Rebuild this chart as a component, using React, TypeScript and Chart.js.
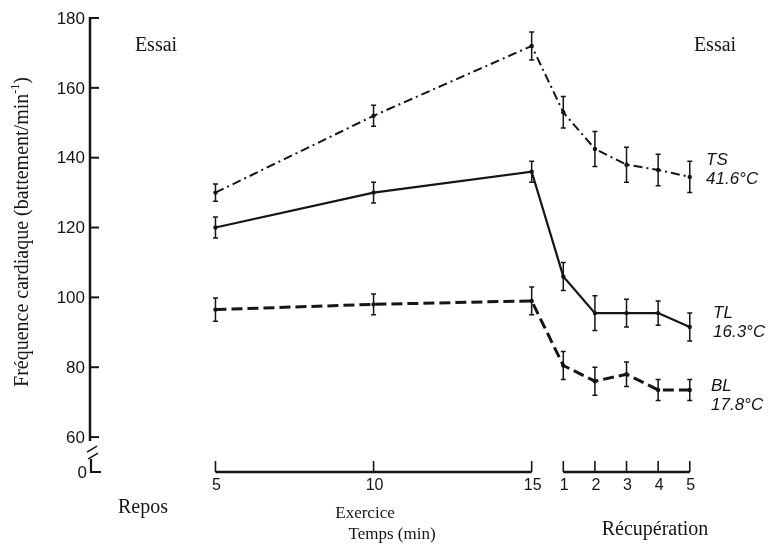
import { useEffect, useRef } from "react";
import { Chart, registerables } from "chart.js";

Chart.register(...registerables);

// Time points: exercise minutes, then recovery minutes (counted after the 15th minute)
const exerciseMinutes = [5, 10, 15];
const recoveryMinutes = [1, 2, 3, 4, 5];
const recoveryStart = 15;

// Heart rate (beats/min), mean and error for each condition
const tsRate = [130, 152, 172, 153, 142.5, 138, 136.5, 134.5];
const tsError = [2.5, 3, 4, 4.5, 5, 5, 4.5, 4.5];
const tlRate = [120, 130, 136, 106, 95.5, 95.5, 95.5, 91.5];
const tlError = [3, 3, 3, 4, 5, 4, 3.5, 4];
const blRate = [96.5, 98, 99, 80.5, 76, 78, 73.5, 73.5];
const blError = [3.3, 3, 4, 4, 4, 3.5, 3, 3];

// Series labels written at the end of each curve
const tsLabel = ["TS", "41.6°C"];
const tlLabel = ["TL", "16.3°C"];
const blLabel = ["BL", "17.8°C"];

// Vertical axis: ticks above the break, and the value the broken baseline stands for
const yTicks = [60, 80, 100, 120, 140, 160, 180];
const yBreakValue = 50;
const yBreakLabel = "0";
const yMin = 50;
const yMax = 180;
const xMin = 1;
const xMax = 22;

const INK = "#151515";
const SERIF = "'Liberation Serif', 'Times New Roman', serif";
const SANS = "'Liberation Sans', Arial, sans-serif";

const xValues = [...exerciseMinutes, ...recoveryMinutes.map((m) => recoveryStart + m)];
const toPoints = (vals: number[]) => vals.map((y, i) => ({ x: xValues[i], y }));
const errorSets = [tsError, tlError, blError];

const figurePlugin = {
  id: "figure",
  beforeDatasetsDraw(chart: any) {
    const { ctx, scales } = chart;
    const x = scales.x;
    const y = scales.y;
    const ax = chart.chartArea.left + 1;
    ctx.save();
    ctx.strokeStyle = INK;
    ctx.fillStyle = INK;
    ctx.lineCap = "butt";

    // vertical axis with a break above the baseline
    const yTop = y.getPixelForValue(yMax) - 1;
    const y60 = y.getPixelForValue(yTicks[0]);
    const yBase = y.getPixelForValue(yBreakValue);
    ctx.lineWidth = 2.5;
    ctx.beginPath();
    ctx.moveTo(ax, yTop);
    ctx.lineTo(ax, y60 + 4);
    ctx.stroke();
    ctx.lineWidth = 1.6;
    ctx.beginPath();
    ctx.moveTo(ax - 3, y60 + 15);
    ctx.lineTo(ax + 7, y60 + 9);
    ctx.moveTo(ax - 2, y60 + 22);
    ctx.lineTo(ax + 8, y60 + 16);
    ctx.stroke();
    ctx.lineWidth = 2.2;
    ctx.beginPath();
    ctx.moveTo(ax + 1, y60 + 22);
    ctx.lineTo(ax + 1, yBase);
    ctx.lineTo(ax + 11, yBase);
    ctx.stroke();

    ctx.lineWidth = 2;
    ctx.font = `17px ${SANS}`;
    ctx.textAlign = "right";
    ctx.textBaseline = "middle";
    for (const v of yTicks) {
      const py = y.getPixelForValue(v);
      ctx.beginPath();
      ctx.moveTo(ax, py);
      ctx.lineTo(ax + 9, py);
      ctx.stroke();
      ctx.fillText(String(v), ax - 5, py + 1);
    }
    ctx.fillText(yBreakLabel, ax - 3, yBase + 1);

    // time axis: exercise segment and recovery segment
    const segments = [
      { values: exerciseMinutes, labels: exerciseMinutes.map(String) },
      {
        values: recoveryMinutes.map((m) => recoveryStart + m),
        labels: recoveryMinutes.map(String),
      },
    ];
    ctx.textAlign = "center";
    ctx.textBaseline = "middle";
    ctx.font = `16px ${SANS}`;
    for (const seg of segments) {
      const x0 = x.getPixelForValue(seg.values[0]);
      const x1 = x.getPixelForValue(seg.values[seg.values.length - 1]);
      ctx.lineWidth = 2.5;
      ctx.beginPath();
      ctx.moveTo(x0, yBase);
      ctx.lineTo(x1, yBase);
      ctx.stroke();
      ctx.lineWidth = 1.6;
      seg.values.forEach((v, i) => {
        const px = x.getPixelForValue(v);
        ctx.beginPath();
        ctx.moveTo(px, yBase);
        ctx.lineTo(px, yBase - 11);
        ctx.stroke();
        ctx.fillText(seg.labels[i], px + 1, yBase + 14);
      });
    }

    // titles and captions
    ctx.font = `20px ${SERIF}`;
    ctx.fillText("Essai", 156, 46);
    ctx.fillText("Essai", 715, 46);
    ctx.fillText("Repos", 143, 508);
    ctx.fillText("Récupération", 655, 530);
    ctx.font = `17px ${SERIF}`;
    ctx.fillText("Exercice", 365, 514);
    ctx.fillText("Temps (min)", 392, 535);

    // rotated y-axis title with superscript
    const main = "Fréquence cardiaque (battement/min";
    const sup = "-1";
    const close = ")";
    ctx.font = `20px ${SERIF}`;
    const w1 = ctx.measureText(main).width;
    const w3 = ctx.measureText(close).width;
    ctx.font = `12px ${SERIF}`;
    const w2 = ctx.measureText(sup).width;
    const total = w1 + w2 + w3;
    ctx.translate(23, 232);
    ctx.rotate(-Math.PI / 2);
    ctx.textAlign = "left";
    ctx.font = `20px ${SERIF}`;
    ctx.fillText(main, -total / 2, 0);
    ctx.font = `12px ${SERIF}`;
    ctx.fillText(sup, -total / 2 + w1, -7);
    ctx.font = `20px ${SERIF}`;
    ctx.fillText(close, -total / 2 + w1 + w2, 0);
    ctx.restore();
  },
  afterDatasetsDraw(chart: any) {
    const { ctx, scales } = chart;
    const y = scales.y;
    ctx.save();
    ctx.strokeStyle = INK;
    ctx.lineWidth = 1.5;
    chart.data.datasets.forEach((ds: any, di: number) => {
      const meta = chart.getDatasetMeta(di);
      const errs = errorSets[di];
      ds.data.forEach((p: any, i: number) => {
        const px = meta.data[i].x;
        const top = y.getPixelForValue(p.y + errs[i]);
        const bot = y.getPixelForValue(p.y - errs[i]);
        ctx.beginPath();
        ctx.moveTo(px, top);
        ctx.lineTo(px, bot);
        ctx.moveTo(px - 2.5, top);
        ctx.lineTo(px + 2.5, top);
        ctx.moveTo(px - 2.5, bot);
        ctx.lineTo(px + 2.5, bot);
        ctx.stroke();
      });
    });

    // series labels at the curve ends
    ctx.fillStyle = INK;
    ctx.font = `italic 17px ${SANS}`;
    ctx.textAlign = "left";
    ctx.textBaseline = "middle";
    const labelSets = [
      { text: tsLabel, x: 706, y: 160 },
      { text: tlLabel, x: 713, y: 313 },
      { text: blLabel, x: 711, y: 386 },
    ];
    for (const l of labelSets) {
      ctx.fillText(l.text[0], l.x, l.y);
      ctx.fillText(l.text[1], l.x, l.y + 19);
    }
    ctx.restore();
  },
};

export default function App() {
  const ref = useRef<HTMLCanvasElement>(null);

  useEffect(() => {
    document.body.style.margin = "0";
    const line = (data: number[], dash: number[], width: number) => ({
      data: toPoints(data),
      borderColor: INK,
      backgroundColor: INK,
      borderWidth: width,
      borderDash: dash,
      pointRadius: 2.2,
      pointBorderWidth: 0,
      pointBackgroundColor: INK,
      tension: 0,
      fill: false,
    });
    const chart = new Chart(ref.current as HTMLCanvasElement, {
      type: "line",
      data: {
        datasets: [
          { label: "TS", ...line(tsRate, [9, 4, 2, 4], 2) },
          { label: "TL", ...line(tlRate, [], 2.2) },
          { label: "BL", ...line(blRate, [11, 5], 3) },
        ],
      },
      options: {
        animation: false,
        responsive: true,
        maintainAspectRatio: false,
        layout: { padding: { left: 89, right: 23, top: 18, bottom: 75 } },
        plugins: { legend: { display: false }, tooltip: { enabled: false } },
        scales: {
          x: { type: "linear", min: xMin, max: xMax, display: false },
          y: { type: "linear", min: yMin, max: yMax, display: false },
        },
      },
      plugins: [figurePlugin],
    });
    return () => chart.destroy();
  }, []);

  return (
    <div style={{ position: "absolute", left: 0, top: 0, width: 776, height: 547, background: "#fff" }}>
      <canvas ref={ref} />
    </div>
  );
}
